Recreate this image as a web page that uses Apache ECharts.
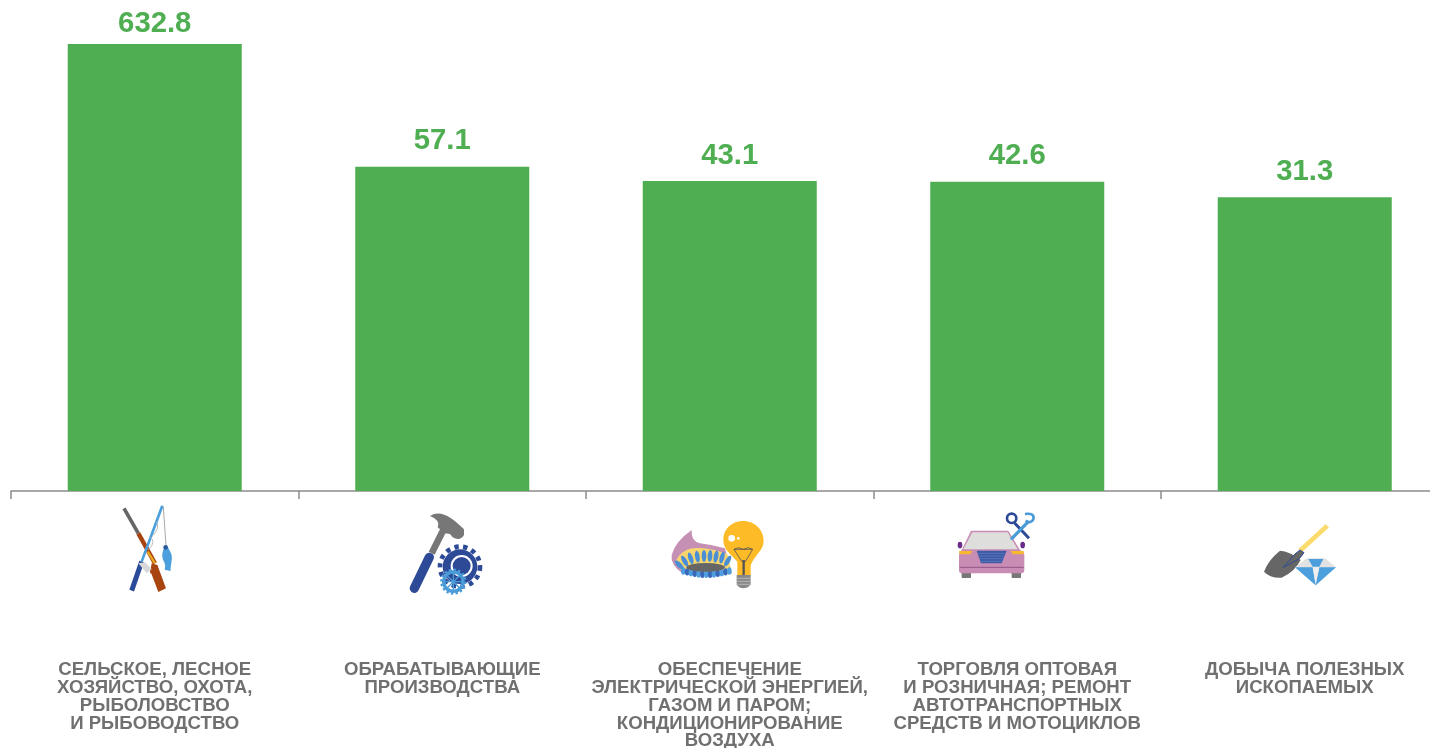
<!DOCTYPE html>
<html><head><meta charset="utf-8">
<style>html,body{margin:0;padding:0;background:#fff;overflow:hidden}#c{width:1430px;height:748px}</style>
<script src="https://cdn.jsdelivr.net/npm/echarts@6/dist/echarts.min.js"></script>
</head><body><div id="c"></div>
<script>
const categories = [
  "СЕЛЬСКОЕ, ЛЕСНОЕ\nХОЗЯЙСТВО, ОХОТА,\nРЫБОЛОВСТВО\nИ РЫБОВОДСТВО",
  "ОБРАБАТЫВАЮЩИЕ\nПРОИЗВОДСТВА",
  "ОБЕСПЕЧЕНИЕ\nЭЛЕКТРИЧЕСКОЙ ЭНЕРГИЕЙ,\nГАЗОМ И ПАРОМ;\nКОНДИЦИОНИРОВАНИЕ\nВОЗДУХА",
  "ТОРГОВЛЯ ОПТОВАЯ\nИ РОЗНИЧНАЯ; РЕМОНТ\nАВТОТРАНСПОРТНЫХ\nСРЕДСТВ И МОТОЦИКЛОВ",
  "ДОБЫЧА ПОЛЕЗНЫХ\nИСКОПАЕМЫХ"
];
const values = [632.8, 57.1, 43.1, 42.6, 31.3];
const axisFloor = 0.1;

const flames = (() => {
  let s = '';
  const top = [[58,180,-45],[74,168,-30],[92,160,-18],[112,155,-8],[132,153,0],[150,153,4],[168,155,10],[186,158,15],[203,168,30]];
  top.forEach(f => s += `<ellipse cx="${f[0]}" cy="${f[1]}" rx="7" ry="18" fill="#4a8fd6" transform="rotate(${f[2]} ${f[0]} ${f[1]})"/>`);
  for (let i = 0; i < 13; i++) {
    const x = 70 + i * 11.5, y = 198 + 10 * Math.sin(Math.PI * i / 12);
    s += `<ellipse cx="${x}" cy="${y}" rx="7" ry="11" fill="${i % 2 ? '#3a68b8' : '#4f9fe0'}"/>`;
  }
  return s;
})();

const wrap = (dx, dy, body) => 'data:image/svg+xml;charset=utf-8,' + encodeURIComponent(
  `<svg xmlns="http://www.w3.org/2000/svg" width="160" height="166" viewBox="0 0 160 166"><g transform="translate(${dx},${dy}) scale(0.3333)" fill="none" stroke-linecap="butt">${body}</g></svg>`);

const icons = [
  wrap(25.25, 0, `
    <path d="M72 40L115 115" stroke="#666" stroke-width="11"/>
    <path d="M115 115L165 205" stroke="#a8440f" stroke-width="13"/>
    <path d="M143 170L165 205" stroke="#e9a820" stroke-width="7"/>
    <path d="M150 225L172 210L198 280L175 291Z" fill="#a8440f"/>
    <path d="M155 205L172 210L178 235L150 235Z" fill="#a8440f"/>
    <path d="M187 32L125 200" stroke="#4a9fdc" stroke-width="8"/>
    <path d="M125 200L95 287" stroke="#2a4a9a" stroke-width="15"/>
    <path d="M190 35L198 152" stroke="#999" stroke-width="2.5"/>
    <path d="M170 80Q180 100 158 122" stroke="#bbb" stroke-width="3"/>
    <path d="M150 125Q170 140 145 165" stroke="#bbb" stroke-width="3"/>
    <path d="M197 150Q222 175 214 205Q211 222 212 228L194 224Q198 215 194 205Q178 180 197 150Z" fill="#4a9fdc"/>
    <circle cx="197" cy="157" r="7" fill="#2a5a9a"/>
    <path d="M115 205L135 202L155 222L140 235Z" fill="#d8d8d8"/>`),
  wrap(27.75, 5, `
    <path d="M160 90L125 160" stroke="#777" stroke-width="20"/>
    <path d="M118 172L73 265" stroke="#2c4a96" stroke-width="28" stroke-linecap="round"/>
    <path d="M120 48C150 28 185 50 222 88L222 105Q210 125 188 112L180 102L165 100L143 82Q152 60 120 48Z" fill="#777"/>
    <circle cx="210" cy="200" r="52" fill="#2c4a96"/>
    <circle cx="210" cy="200" r="60" stroke="#2c4a96" stroke-width="14" stroke-dasharray="13 13.4"/>
    <circle cx="215" cy="198" r="33" fill="#fff"/>
    <circle cx="215" cy="198" r="27" fill="#2c4a96"/>
    <circle cx="190" cy="245" r="29" stroke="#4a9bd8" stroke-width="10"/>
    <circle cx="190" cy="245" r="36" stroke="#4a9bd8" stroke-width="7" stroke-dasharray="7 7.1"/>
    <path d="M165 245H215M190 220V270M172 227L208 263M208 227L172 263" stroke="#4a9bd8" stroke-width="4"/>`),
  wrap(10.25, 10, `
    <path d="M35 150Q45 110 95 75Q92 108 120 115Q160 120 195 130L215 205L70 207Q30 180 35 150Z" fill="#c690b5"/>
    <path d="M45 175Q60 135 100 130Q150 125 205 150L215 207L75 207Z" fill="#f8d66d"/>
    ${flames}
    <ellipse cx="137" cy="187" rx="58" ry="13" fill="#666"/>
    <path d="M232 170C215 150 190 135 190 105C190 70 218 48 250 48C285 48 311 75 311 108C311 135 285 150 272 180L272 210L232 210Z" fill="#fdbb27"/>
    <circle cx="215" cy="100" r="10" fill="#fff"/><circle cx="235" cy="100" r="4" fill="#fff"/>
    <path d="M222 133L278 133L256 170H246Z M222 133L235 128L250 133L265 128L278 133" stroke="#555" stroke-width="2.5"/>
    <path d="M251 165V210" stroke="#555" stroke-width="7"/>
    <path d="M230 210H272V238Q265 250 250 250Q236 250 230 238Z" fill="#888"/>
    <path d="M230 220H272M230 229H272M232 238H270" stroke="#ccc" stroke-width="2"/>`),
  wrap(7.75, 5, `
    <rect x="50" y="218" width="28" height="16" rx="2" fill="#777"/><rect x="200" y="218" width="28" height="16" rx="2" fill="#777"/>
    <path d="M78 92L190 92L225 150Q238 155 238 165V210Q238 220 228 220H52Q42 220 42 210V165Q42 155 50 150Z" fill="#c98db5"/>
    <path d="M82 97L188 97L218 148H55Z" fill="#dededc"/>
    <ellipse cx="45" cy="135" rx="7" ry="10" fill="#6a2c8a"/><ellipse cx="233" cy="135" rx="7" ry="10" fill="#6a2c8a"/>
    <path d="M42 153H82L76 163H44Z" fill="#f5b82e"/><path d="M197 153H236V163H203Z" fill="#f5b82e"/>
    <path d="M95 152H185L170 190H108Z" fill="#3c5aa6"/>
    <path d="M98 160H182M101 168H179M104 176H176M107 184H172" stroke="#7b8fc8" stroke-width="1.5"/>
    <path d="M44 202H236" stroke="#8a4a80" stroke-width="2.5"/>
    <path d="M208 68L252 115" stroke="#2c4a96" stroke-width="9"/>
    <circle cx="200" cy="55" r="14" stroke="#2c4a96" stroke-width="8"/>
    <path d="M250 65L198 118" stroke="#4a9bd8" stroke-width="10"/>
    <path d="M240 42Q270 38 265 58Q258 72 242 62" stroke="#4a9bd8" stroke-width="8"/>`),
  wrap(25.25, 15, `
    <path d="M232 47L150 122" stroke="#fbdb6e" stroke-width="14"/>
    <path d="M90 122Q120 125 145 145L152 150Q135 185 95 203Q60 205 42 185Q55 150 90 122Z" fill="#666"/>
    <path d="M100 172L135 132L150 120L162 128L148 146Z" fill="#666" stroke="#2c4a96" stroke-width="3"/>
    <path d="M135 172L170 145H225L258 172L197 226Z" fill="#e2e2e2"/>
    <path d="M135 172H188L197 226Z M258 172H208L197 226Z" fill="#4a9fdc"/>
    <path d="M175 147H220L208 170H188Z" fill="#4a9fdc"/>
    <path d="M188 172H208L197 222Z" fill="#eeeeee"/>`)
];

const rich = {
  t: { fontSize: 18.6, fontWeight: 'bold', color: '#707070', lineHeight: 17.85, fontFamily: '"Liberation Sans", Arial, sans-serif', align: 'center' }
};
icons.forEach((src, i) => {
  rich['i' + i] = { width: 160, height: 166, lineHeight: 166, align: 'center', backgroundColor: { image: src } };
});

const chart = echarts.init(document.getElementById('c'), null, { renderer: 'canvas' });
chart.setOption({
  animation: false,
  backgroundColor: '#fff',
  grid: { left: 11, top: 20.6, width: 1437.5, height: 470.4, containLabel: false, outerBoundsMode: 'none' },
  xAxis: {
    type: 'category',
    data: categories,
    axisLine: { show: true, lineStyle: { color: '#8c8c8c', width: 1.5 } },
    axisTick: { show: true, alignWithLabel: false, length: 8, lineStyle: { color: '#8c8c8c', width: 1.5 } },
    axisLabel: {
      interval: 0,
      margin: 4,
      formatter: (v) => {
        const i = categories.indexOf(v);
        return `{i${i}|}\n` + v.split('\n').map(l => `{t|${l}}`).join('\n');
      },
      rich
    }
  },
  yAxis: { type: 'log', logBase: 10, min: 0.1, max: 1000, show: false, splitLine: { show: false } },
  series: [{
    // A log axis starts bars at 1; this clear stack base takes them down to the axis floor.
    type: 'bar', stack: 'v', barWidth: 174, silent: true,
    data: values.map(() => axisFloor),
    itemStyle: { color: 'rgba(0,0,0,0)' },
    tooltip: { show: false }
  }, {
    type: 'bar',
    stack: 'v',
    data: values.map((v, i) => ({ value: v, label: { distance: i === 0 ? 6 : 11 } })),
    barWidth: 174,
    itemStyle: { color: '#4fae52' },
    label: {
      show: true, position: 'top',
      formatter: p => p.value.toFixed(1),
      color: '#4fae52', fontSize: 29.3, fontWeight: 'bold', fontFamily: '"Liberation Sans", Arial, sans-serif'
    }
  }]
});
</script></body></html>
